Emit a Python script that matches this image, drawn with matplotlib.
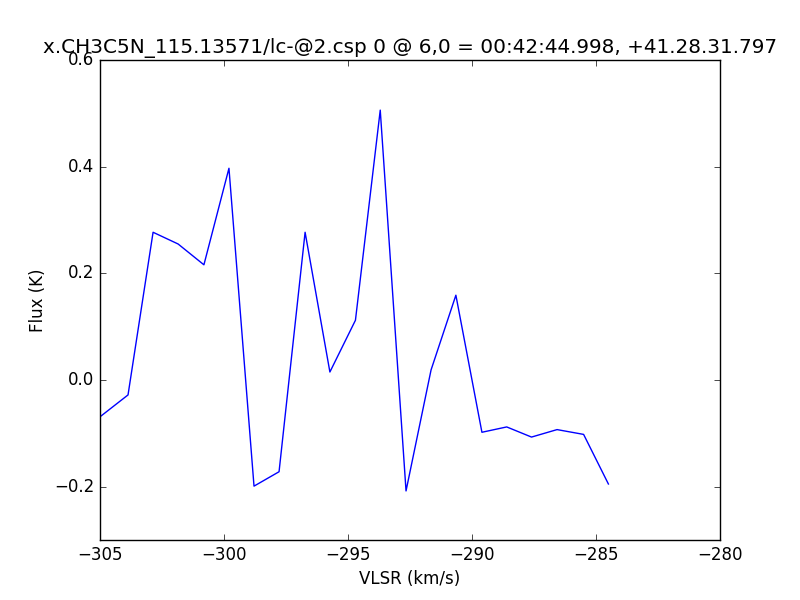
import matplotlib
matplotlib.use("Agg")
import matplotlib.pyplot as plt

plt.style.use("classic")

# spectrum
vlsr = [-305.0, -303.87, -302.86, -301.85, -300.81, -299.8, -298.79, -297.78,
        -296.73, -295.73, -294.7, -293.7, -292.66, -291.65, -290.65, -289.6,
        -288.6, -287.6, -286.57, -285.5, -284.5]
flux = [-0.069, -0.028, 0.277, 0.255, 0.216, 0.397, -0.199, -0.172,
        0.277, 0.015, 0.112, 0.506, -0.208, 0.019, 0.159, -0.098,
        -0.088, -0.107, -0.093, -0.102, -0.195]
yticks = [-0.2, 0.0, 0.2, 0.4, 0.6]

title = "x.CH3C5N_115.13571/lc-@2.csp 0 @ 6,0 = 00:42:44.998, +41.28.31.797"

fig = plt.figure(figsize=(8, 6), dpi=100, facecolor="white")
ax = fig.add_subplot(111)
ax.plot(vlsr, flux, color="blue", linewidth=1)
ax.set_xlim(-305, -280)
ax.set_ylim(-0.3, 0.6)
ax.set_yticks(yticks)
ax.set_xlabel("VLSR (km/s)")
ax.set_ylabel("Flux (K)")
ax.set_title(title)

fig.savefig("out.png", dpi=100, facecolor="white")
